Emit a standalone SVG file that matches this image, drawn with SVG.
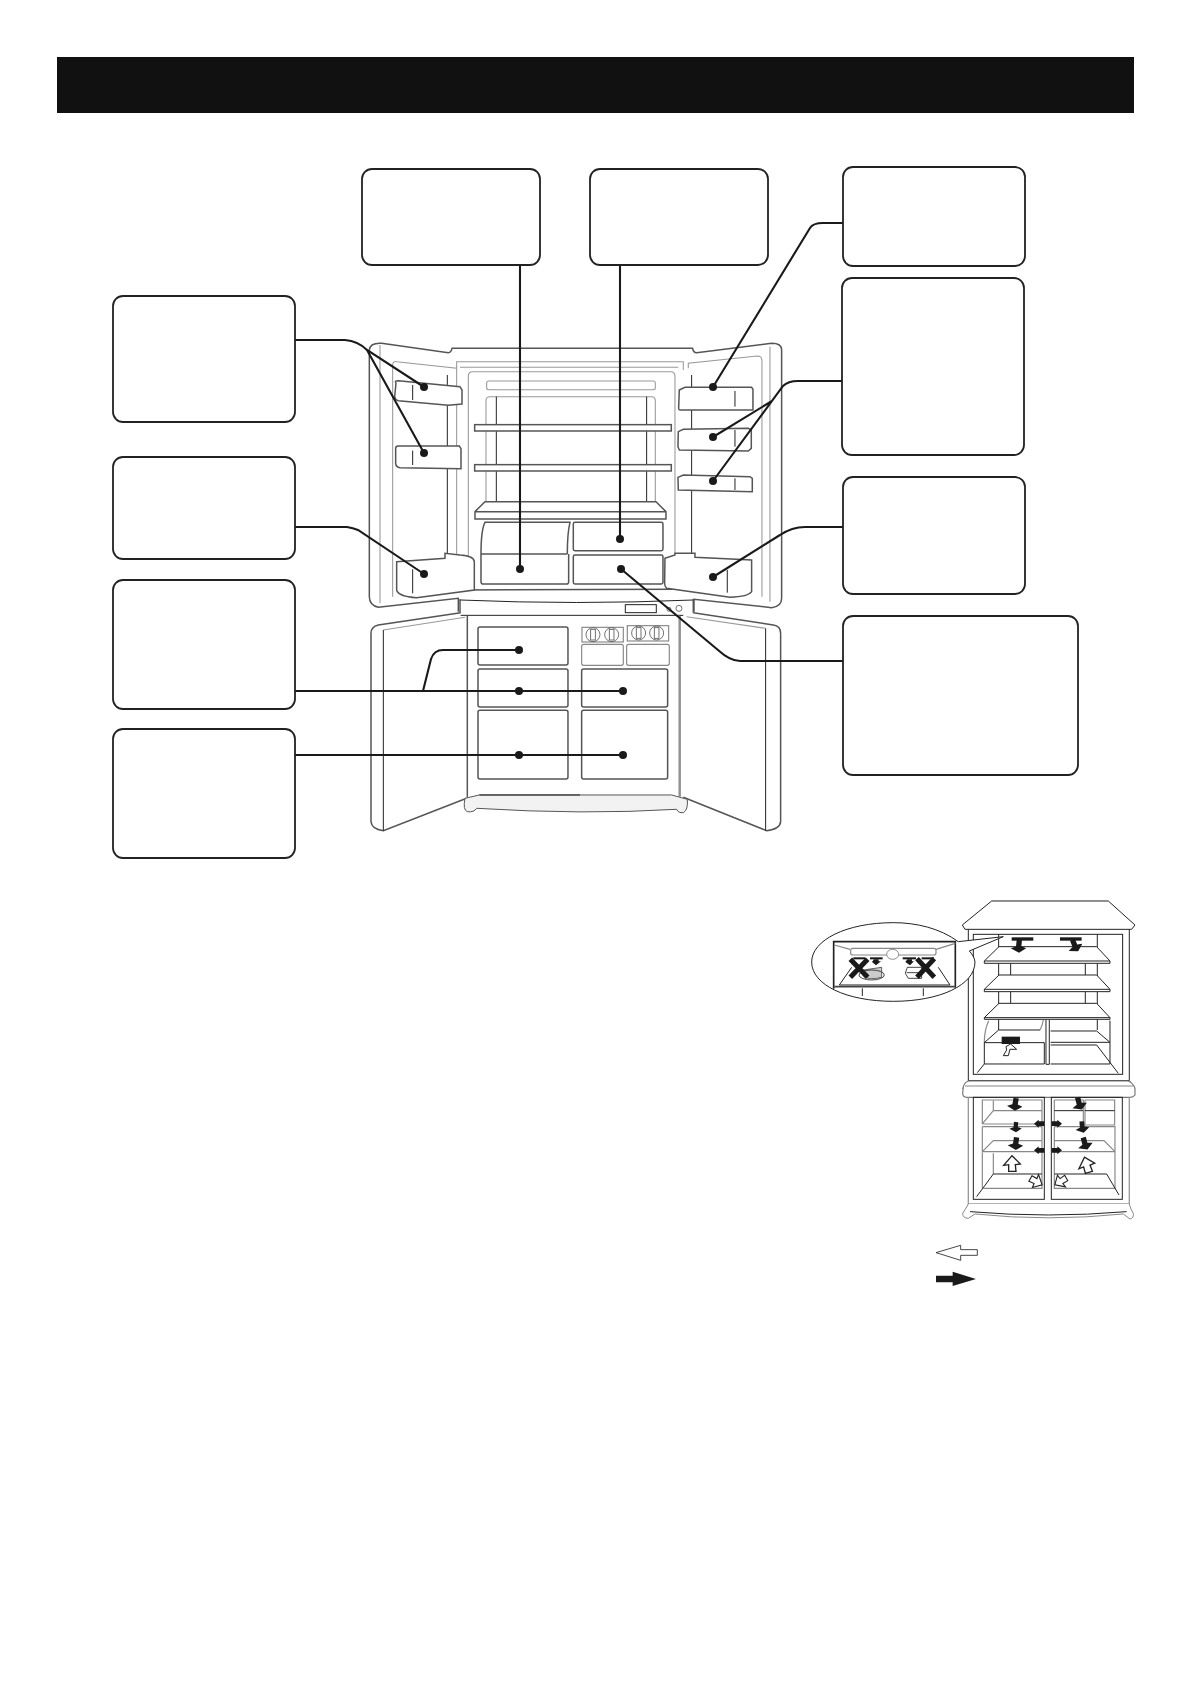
<svg xmlns="http://www.w3.org/2000/svg" width="1191" height="1684" viewBox="0 0 1191 1684">
<style>
.lab{fill:#fff;stroke:#222;stroke-width:1.8}
.con{fill:none;stroke:#1a1a1a;stroke-width:2.1}
.dot{fill:#1a1a1a}
.k{fill:none;stroke:#2a2a2a;stroke-width:3}
.g{fill:none;stroke:#555;stroke-width:4.5}
.lg{fill:none;stroke:#999;stroke-width:3.2}
.gw{fill:#fff;stroke:#555;stroke-width:4.5}
.t{fill:none;stroke:#222;stroke-width:3}
.r3{fill:none;stroke:#222;stroke-width:3}
.r3w{fill:#fff;stroke:#222;stroke-width:3}
.rg{fill:none;stroke:#888;stroke-width:3.5}
</style>
<defs>
<polygon id="bd" points="-8,-20 8,-20 8,-2 23,2 3,18 -23,7 -8,0" fill="#1a1a1a"/>
<polygon id="wu" points="-10,22 12,22 10,2 25,0 0,-25 -25,4 -10,2" fill="#fff" stroke="#222" stroke-width="4"/>
<polygon id="bh" points="-15,-7 2,-7 2,-12 16,0 2,12 2,7 -15,7" fill="#1a1a1a"/>
</defs>
<rect id="header" x="57" y="57" width="1077" height="56" fill="#111"/>

<g id="fridge-upper" transform="translate(350,330) scale(0.3333)">
<path class="g" d="M325,845 V805 L85,832 Q58,825 58,800 V60 Q60,38 95,40 L295,68 Q303,68 306,55 H1028 Q1030,68 1040,68 L1265,40 Q1295,40 1295,60 V805 Q1295,830 1265,833 L1032,808 V845"/>
<path class="lg" d="M90,45 V820 M1260,50 V815"/>
<path class="lg" d="M128,800 V105 Q128,93 140,95 L320,115 V690 M320,115 V95 H1000 V120 M1015,115 V100 L1222,78 Q1236,78 1236,92 V800"/>
<path class="t" d="M292,135 V672 M1025,135 V672"/>
<path class="lg" d="M330,112 H985"/>
<path class="lg" d="M355,780 V138 Q355,125 368,125 H962 Q975,125 975,138 V780"/>
<rect class="lg" x="410" y="153" width="506" height="26" rx="6"/>
<path class="lg" d="M408,515 V212 Q408,200 420,200 H904 Q916,200 916,212 V515"/>
<path class="t" d="M439,200 V515 M890,200 V515"/>
<rect class="gw" x="374" y="284" width="590" height="19"/>
<rect class="gw" x="374" y="404" width="590" height="19"/>
<path class="gw" d="M375,545 L405,515 H918 L948,545 V567 H375 Z M375,545 H948"/>
<path class="g" d="M393,672 Q393,600 405,577 H660 Q652,610 652,672 M393,672 H652 M393,672 V755 Q393,762 400,762 H650 Q656,762 656,755 V672"/>
<rect class="g" x="670" y="577" width="269" height="85" rx="5"/>
<rect class="g" x="670" y="675" width="269" height="87" rx="5"/>
<path class="g" d="M330,780 L985,778"/>
<path class="gw" d="M138,160 Q132,152 145,152 L330,170 L336,180 V222 L295,226 L145,212 Q135,210 134,200 Z"/>
<path class="gw" d="M137,355 Q137,348 145,348 H328 L333,356 V416 L150,413 Q138,412 137,400 Z"/>
<path class="gw" d="M140,695 L285,685 V670 L330,675 Q372,678 373,695 V780 L200,803 Q145,800 140,780 Z"/>
<path class="gw" d="M988,180 L1005,172 H1205 L1209,178 V240 L990,240 Q986,240 986,235 Z"/>
<path class="gw" d="M985,305 L1000,298 L1195,295 L1204,300 V355 L1195,363 L988,360 L984,350 Z"/>
<path class="gw" d="M984,442 L1000,435 L1200,440 L1207,445 V485 L985,480 Z"/>
<path class="gw" d="M945,685 L975,675 V670 H1035 V682 L1205,690 V785 Q1195,800 1140,802 L950,775 Q944,770 944,760 Z"/>
<path class="t" d="M188,165 V210 M188,362 V405 M188,718 V790 M1155,183 V230 M1155,300 V350 M1155,445 V480 M1132,720 V788"/>
</g>

<g id="fridge-lower" transform="translate(350,590) scale(0.3333)">
<path class="g" d="M330,28 V68 M1030,28 V68"/>
<path class="t" d="M330,30 Q680,45 1030,30"/>
<path class="g" d="M332,68 L85,105 Q63,110 63,130 V695 Q65,718 100,722 L350,625"/>
<path class="g" d="M1030,68 L1270,105 Q1292,108 1292,130 V695 Q1290,718 1250,722 L1000,622"/>
<path class="lg" d="M100,120 L345,82 M1247,115 L1010,80"/>
<path class="t" d="M100,120 V722 M1247,115 V722"/>
<path class="t" d="M332,76 H1000 M990,76 V620"/>
<path class="g" d="M352,76 V622"/>
<path class="lg" d="M987,76 V620"/>
<path d="M345,625 L388,615 H965 L1012,628 Q1015,660 1000,668 Q985,670 980,658 Q700,675 380,655 Q372,668 352,665 Q338,660 345,625 Z" fill="#f2f2f2" stroke="#555" stroke-width="3"/>
<path class="t" d="M388,615 H690"/>
<rect class="g" x="384" y="111" width="270" height="114" rx="6"/>
<rect class="g" x="384" y="237" width="270" height="114" rx="6"/>
<rect class="g" x="384" y="361" width="270" height="206" rx="6"/>
<rect class="g" x="695" y="237" width="258" height="114" rx="6"/>
<rect class="g" x="695" y="361" width="258" height="206" rx="6"/>
<rect class="rg" x="695" y="163" width="125" height="63" rx="6"/>
<rect class="rg" x="830" y="163" width="128" height="63" rx="6"/>
<rect class="rg" x="696" y="112" width="124" height="44"/>
<rect class="rg" x="832" y="107" width="124" height="46"/>
<g fill="none" stroke="#555" stroke-width="2.5">
<circle cx="729" cy="134" r="21"/><circle cx="785" cy="134" r="21"/><circle cx="866" cy="129" r="21"/><circle cx="920" cy="129" r="21"/>
<rect x="722" y="118" width="14" height="32"/><rect x="778" y="118" width="14" height="32"/><rect x="859" y="113" width="14" height="32"/><rect x="913" y="113" width="14" height="32"/>
</g>
<rect class="t" x="826" y="44" width="93" height="24"/>
<circle cx="957" cy="58" r="6" fill="none" stroke="#555" stroke-width="2.5"/>
<circle cx="987" cy="55" r="9" fill="none" stroke="#555" stroke-width="2.5"/>
</g>

<g id="connectors">
<path class="con" d="M520,265 V569 M620,265 V539"/>
<path class="con" d="M843,223 H823 Q813,223 810,228 L713,387"/>
<path class="con" d="M842,381 H798 Q788,381 783,386 L713,481 M772,401 L713,437"/>
<path class="con" d="M295,340 H345 Q358,341 367,350 L424,387 M367,350 L424,453"/>
<path class="con" d="M295,527 H347 Q353,528 358,530 L424,574"/>
<path class="con" d="M843,527 H805 Q792,527 780,535 L713,577"/>
<path class="con" d="M843,661 H740 Q730,661 718,650 L621,569"/>
<path class="con" d="M295,691 H623 M423,691 L431,659 Q434,650 443,650 H519"/>
<path class="con" d="M295,755 H623"/>
<g class="dot">
<circle cx="424" cy="387" r="4"/><circle cx="424" cy="453" r="4"/><circle cx="424" cy="574" r="4"/>
<circle cx="520" cy="569" r="4"/><circle cx="620" cy="539" r="4"/><circle cx="621" cy="569" r="4"/>
<circle cx="713" cy="387" r="4"/><circle cx="713" cy="437" r="4"/><circle cx="713" cy="481" r="4"/><circle cx="713" cy="577" r="4"/>
<circle cx="519" cy="650" r="4"/><circle cx="519" cy="691" r="4"/><circle cx="623" cy="691" r="4"/><circle cx="519" cy="755" r="4"/><circle cx="623" cy="755" r="4"/>
</g>
</g>

<g id="box-a"><rect class="lab" x="362" y="169" width="178" height="96" rx="10"/></g>
<g id="box-b"><rect class="lab" x="590" y="169" width="178" height="96" rx="10"/></g>
<g id="box-c"><rect class="lab" x="843" y="167" width="182" height="99" rx="10"/></g>
<g id="box-d"><rect class="lab" x="842" y="278" width="182" height="177" rx="10"/></g>
<g id="box-e"><rect class="lab" x="843" y="477" width="182" height="117" rx="10"/></g>
<g id="box-f"><rect class="lab" x="843" y="616" width="235" height="159" rx="10"/></g>
<g id="box-g"><rect class="lab" x="113" y="296" width="182" height="126" rx="10"/></g>
<g id="box-h"><rect class="lab" x="113" y="457" width="182" height="102" rx="10"/></g>
<g id="box-i"><rect class="lab" x="113" y="580" width="182" height="129" rx="10"/></g>
<g id="box-j"><rect class="lab" x="113" y="729" width="182" height="129" rx="10"/></g>

<g id="airflow-upper" transform="translate(800,890) scale(0.3333)">
<path d="M575,33 H925 L1005,105 L995,118 H495 L487,105 Z" class="r3w"/>
<path class="r3" d="M505,118 V572 H988 V118" stroke-width="4.5"/>
<rect class="r3" x="520" y="133" width="448" height="420" stroke-width="4.5"/>
<path class="rg" d="M487,597 L505,572 M988,572 L1005,597"/>
<path class="r3" d="M596,133 V420 M892,133 V420 M632,220 V255 M856,220 V255 M632,305 V340 M856,305 V340" stroke-width="2.5"/>
<path class="r3w" d="M597,170 H890 L930,213 V220 H553 V213 Z M553,213 H930" stroke-width="2.5"/>
<path class="r3w" d="M597,255 H890 L930,298 V305 H553 V298 Z M553,298 H930" stroke-width="2.5"/>
<path class="r3w" d="M597,340 H890 L930,383 V388 H553 V383 Z M553,383 H930" stroke-width="2.5"/>
<path class="rg" d="M553,458 Q553,420 566,392 M720,420 Q728,405 730,390"/>
<path class="r3" d="M553,458 L596,420 H720 M553,458 H733 V522 H553 V458 M553,522 L532,548" stroke-width="2.5"/>
<path class="r3" d="M738,390 V523 H748 V390 M752,423 H890 L930,457 M752,457 H930 M752,465 H890 L955,550 M752,522 H930 V392" stroke-width="2.5"/>
<rect x="635" y="142" width="65" height="10" fill="#1a1a1a"/>
<rect x="780" y="142" width="65" height="10" fill="#1a1a1a"/>
<use href="#bd" transform="translate(656,170) rotate(6)"/>
<use href="#bd" transform="translate(825,168) rotate(-22)"/>
<rect x="605" y="440" width="55" height="22" fill="#1a1a1a"/>
<polygon points="610,497 625,497 630,478 650,478 632,462 618,470 620,480" fill="#fff" stroke="#222" stroke-width="3"/>
<path d="M475,155 C420,115 350,98 280,98 C140,98 35,150 35,216 C35,285 140,334 280,334 C420,334 525,285 525,216 C525,205 515,190 508,183 L610,140 Z" class="r3w"/>
<path d="M101,296 V155 H466 V293" fill="none" stroke="#222" stroke-width="5"/>
<path class="rg" d="M103,165 L150,178 M466,160 L408,178"/>
<rect class="rg" x="152" y="175" width="256" height="20" rx="6"/>
<ellipse cx="278" cy="193" rx="18" ry="15" fill="#fff" stroke="#777" stroke-width="2.5"/>
<path class="r3" d="M155,232 L118,285 H450 L415,232" stroke-width="2.5"/>
<path d="M103,290 H464" stroke="#444" stroke-width="5" fill="none"/>
<path class="r3" d="M187,295 V318 M370,295 V318" stroke-width="2.5"/>
<path d="M190,240 L245,232 V262 Q205,272 190,258 Z" fill="#ccc" stroke="#222" stroke-width="2"/>
<ellipse cx="215" cy="255" rx="38" ry="15" fill="none" stroke="#222" stroke-width="2.5"/>
<path d="M322,232 H365 V265 H325 L316,250 Z M320,248 H360" fill="#fff" stroke="#222" stroke-width="2.5"/>
<g fill="#1a1a1a"><rect x="160" y="202" width="36" height="6"/><rect x="210" y="202" width="38" height="6"/><rect x="308" y="202" width="40" height="6"/><rect x="365" y="202" width="37" height="6"/>
<polygon points="222,208 236,208 236,214 243,214 228,226 216,216"/><polygon points="322,208 336,208 336,214 342,214 330,226 316,216"/></g>
<path d="M151,208 L203,262 M203,208 L151,262 M351,206 L403,262 M403,206 L351,262" fill="none" stroke="#1a1a1a" stroke-width="15"/>
</g>

<g id="airflow-lower" transform="translate(920,1070) scale(0.3333)">
<path d="M130,50 Q135,33 150,33 H625 Q640,40 645,55 V75 Q640,82 630,82 H140 Q128,82 128,70 Z" fill="#fff" stroke="#777" stroke-width="3.5"/>
<path class="rg" d="M135,48 H640"/>
<path d="M145,82 V402 H628 V82" fill="none" stroke="#999" stroke-width="4"/>
<rect class="r3" x="160" y="82" width="213" height="306" stroke-width="4.5"/>
<rect class="r3" x="394" y="82" width="213" height="306" stroke-width="4.5"/>
<path class="rg" d="M187,162 V90 H366 V355 H190 M187,162 L220,122 H366 M187,162 H366 M187,170 H366 M187,170 V245 L220,212 H366 M187,245 H366 M187,248 V355 M220,250 V312 M220,122 V92 M403,90 H490 V165 M403,170 H585 V245 L552,212 H403 M403,245 H585 V355 H403 V248 M403,248 V170 M403,90 V165 M495,90 H584 V165 H495 V90"/>
<path class="r3" d="M220,312 H366 M220,312 L170,380 M403,312 H560 L597,375" stroke-width="2.5"/>
<path class="r3" d="M403,122 H490 M495,122 H584" stroke-width="3"/>
<use href="#bd" transform="translate(285,104) rotate(10)"/>
<use href="#bd" transform="translate(478,102) rotate(-15)"/>
<use href="#bd" transform="translate(287,172) rotate(5) scale(0.8)"/>
<use href="#bd" transform="translate(487,172) rotate(-5) scale(0.9)"/>
<use href="#bd" transform="translate(287,222) rotate(8)"/>
<use href="#bd" transform="translate(495,222) rotate(-15)"/>
<use href="#bh" transform="translate(358,161) rotate(180)"/>
<use href="#bh" transform="translate(410,161)"/>
<use href="#bh" transform="translate(358,241) rotate(180)"/>
<use href="#bh" transform="translate(410,241)"/>
<use href="#wu" transform="translate(276,282)"/>
<use href="#wu" transform="translate(500,286) rotate(-15)"/>
<use href="#wu" transform="translate(348,334) rotate(120) scale(0.85)"/>
<use href="#wu" transform="translate(423,334) rotate(-120) scale(0.85)"/>
<path d="M145,402 Q135,420 128,430 Q128,445 145,445 L165,432 Q385,455 610,432 L630,447 Q642,445 640,430 Q632,418 628,402" fill="#fff" stroke="#888" stroke-width="3"/>
<path class="r3" d="M150,425 Q385,445 620,425" stroke-width="2.5"/>
<polygon points="48,548 122,526 122,539 172,539 172,556 122,556 122,571" fill="#fff" stroke="#222" stroke-width="2.5"/>
<polygon points="48,617 98,617 98,605 168,627 98,648 98,637 48,637" fill="#1a1a1a"/>
</g>
</svg>
